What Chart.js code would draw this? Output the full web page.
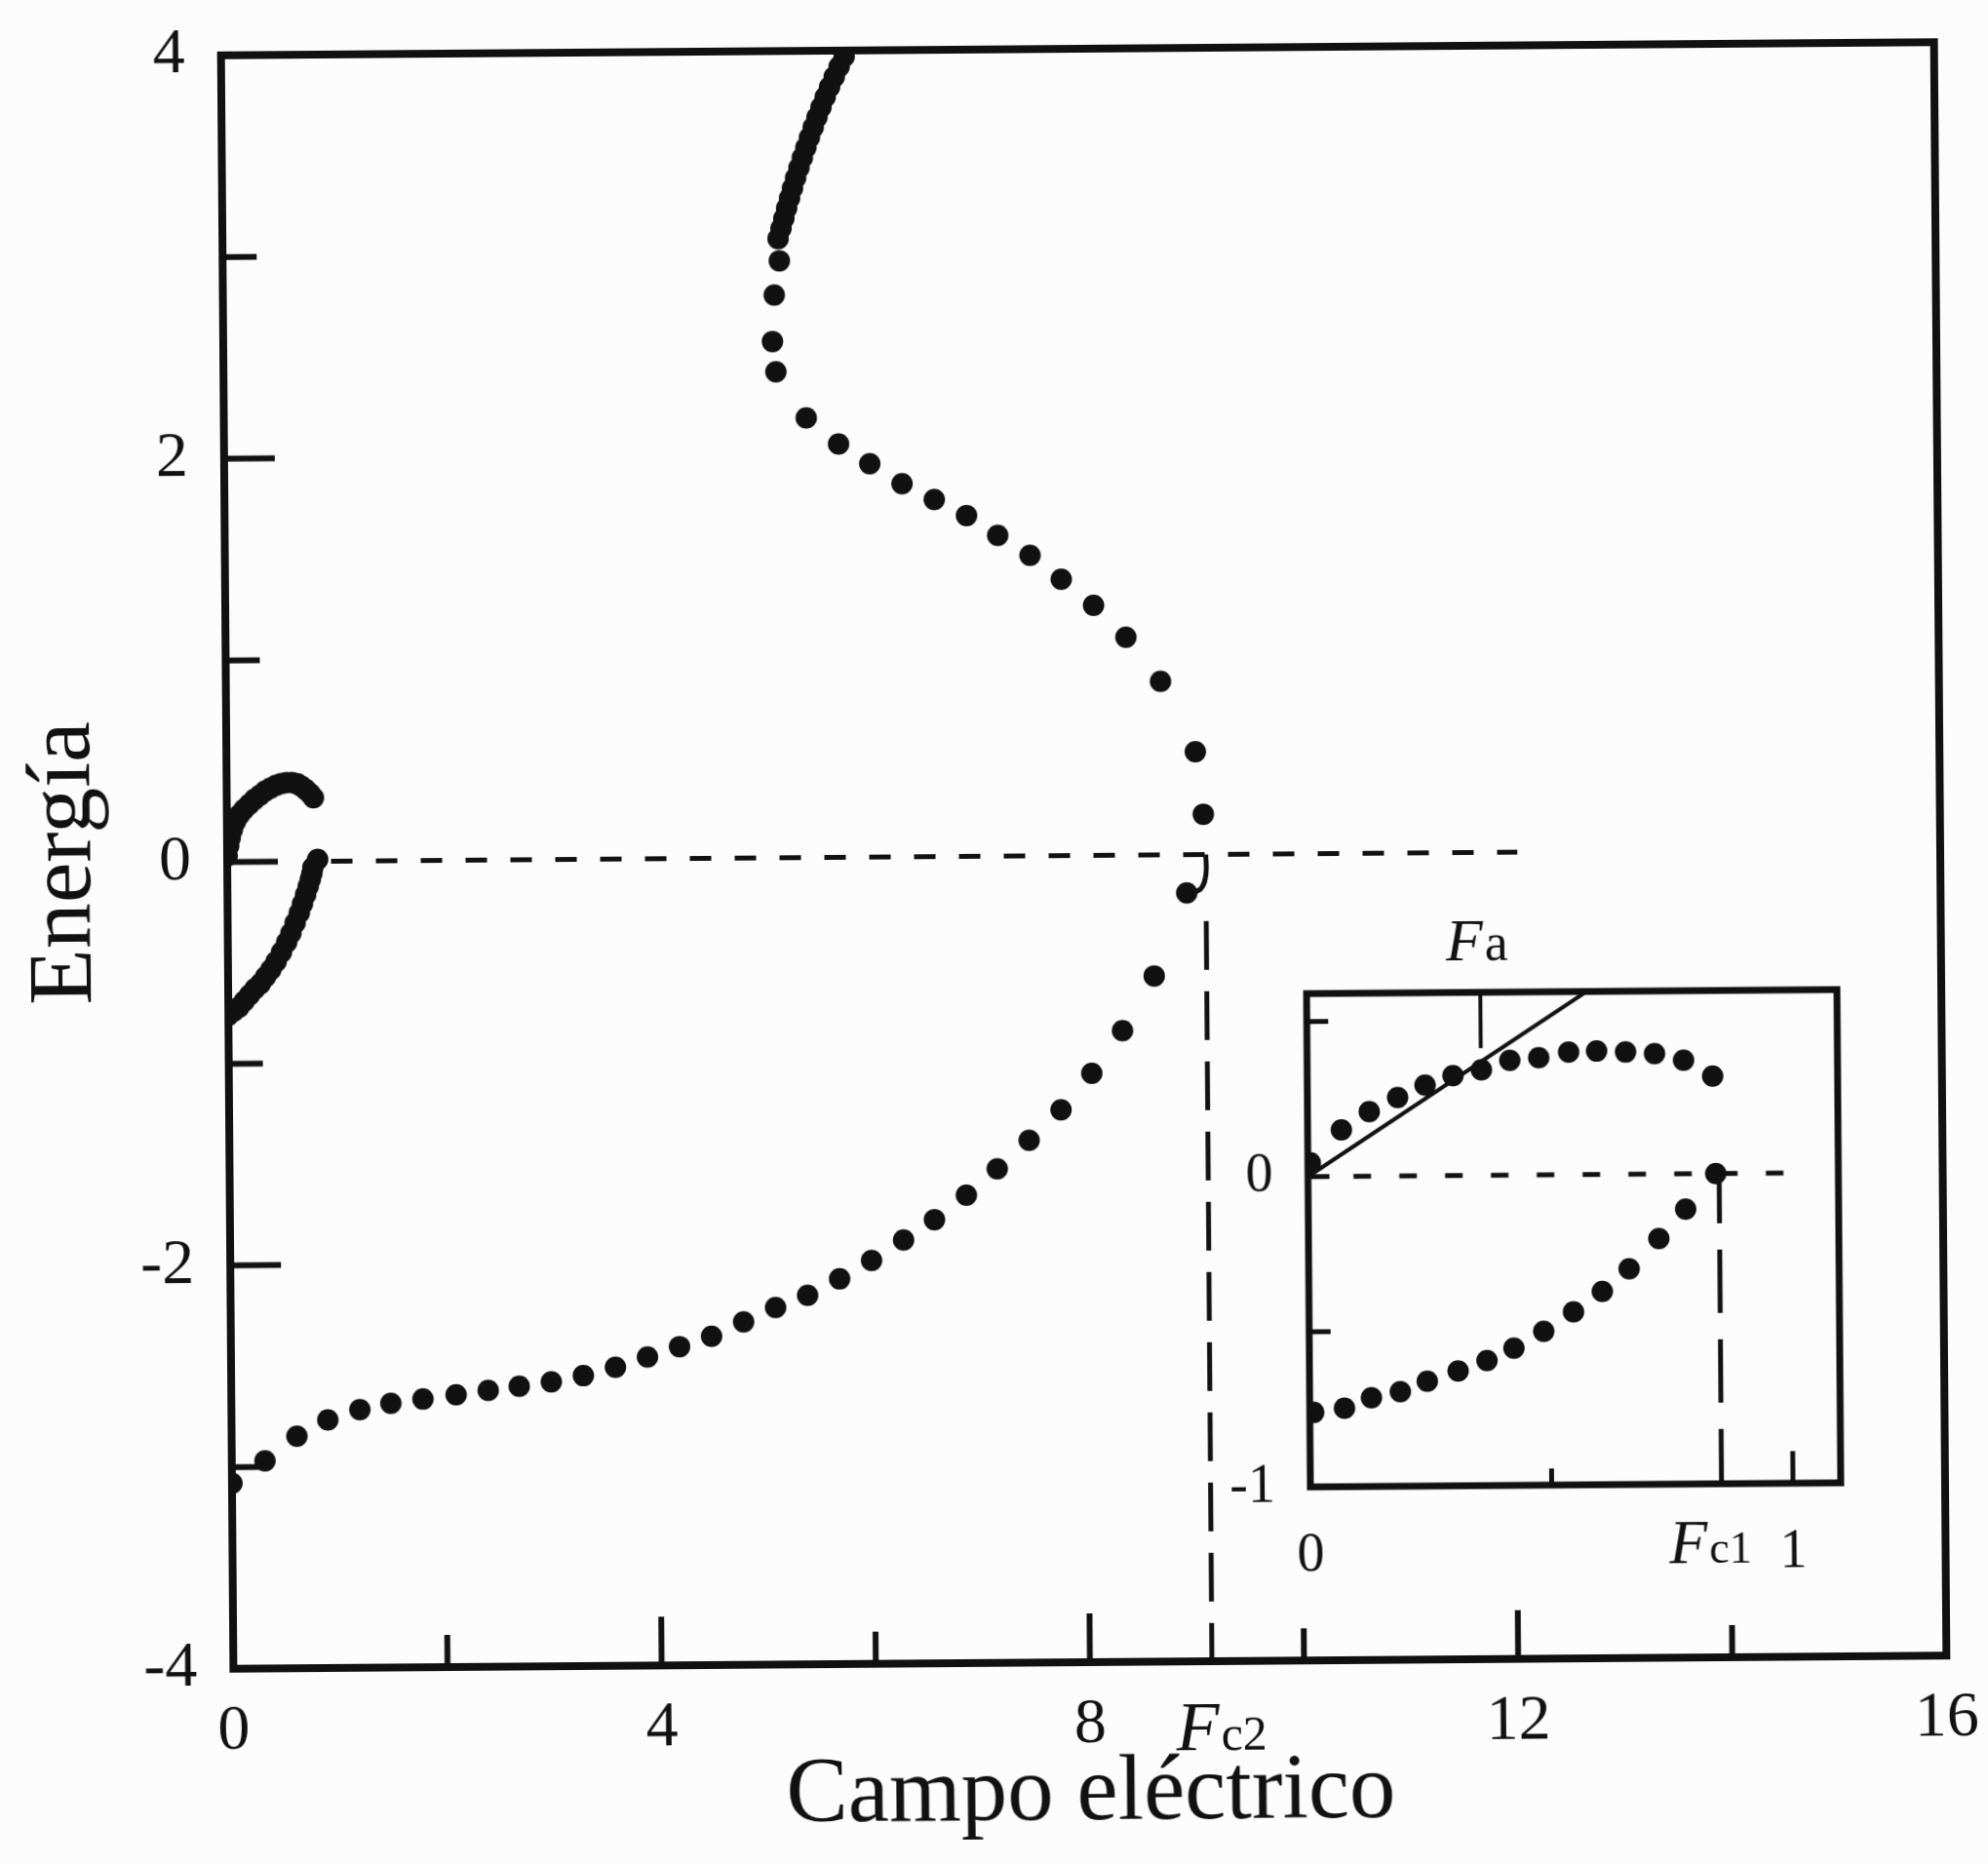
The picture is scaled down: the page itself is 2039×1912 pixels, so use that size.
<!DOCTYPE html>
<html lang="es">
<head>
<meta charset="utf-8">
<title>Energía frente a campo eléctrico</title>
<script src="https://cdn.jsdelivr.net/npm/chart.js@4.4.1/dist/chart.umd.min.js"></script>
<style>
  html, body { margin: 0; padding: 0; background: #fcfcfc; overflow: hidden; }
  #figure {
    position: relative; width: 2039px; height: 1912px;
    transform: rotate(-0.44deg); transform-origin: 1111px 877px;
  }
  #main  { position: absolute; left: 0; top: 0; width: 2039px; height: 1912px; }
  #inset { position: absolute; left: 1239px; top: 941px; width: 700px; height: 700px; }
</style>
</head>
<body>
<div id="figure">
  <canvas id="main" width="2039" height="1912"></canvas>
  <canvas id="inset" width="700" height="700"></canvas>
</div>
<script>
// ---------- main panel: energy levels vs. electric field ----------
const loopUpper = [
  [0.00, 0.03], [0.015, 0.08], [0.03, 0.12], [0.05, 0.16], [0.08, 0.20], [0.12, 0.235],
  [0.16, 0.26], [0.21, 0.285], [0.26, 0.31], [0.31, 0.33], [0.36, 0.35], [0.41, 0.365],
  [0.46, 0.378], [0.51, 0.387], [0.56, 0.392], [0.61, 0.392], [0.66, 0.385], [0.70, 0.372],
  [0.74, 0.356], [0.78, 0.336], [0.81, 0.315]
];
const loopLower = [
  [0.00, -0.76], [0.05, -0.74], [0.10, -0.72], [0.15, -0.69], [0.20, -0.66], [0.25, -0.63],
  [0.30, -0.605], [0.35, -0.57], [0.40, -0.535], [0.45, -0.495], [0.50, -0.45], [0.55, -0.40],
  [0.59, -0.355], [0.63, -0.305], [0.67, -0.255], [0.70, -0.21], [0.73, -0.165], [0.755, -0.125],
  [0.775, -0.09], [0.79, -0.06], [0.80, -0.03], [0.845, 0.01]
];
const lowerBand = [
  [0.00, -3.08], [0.31, -2.97], [0.61, -2.85], [0.90, -2.77], [1.20, -2.72], [1.49, -2.69],
  [1.79, -2.67], [2.10, -2.65], [2.40, -2.63], [2.69, -2.61], [2.99, -2.59], [3.29, -2.56],
  [3.59, -2.52], [3.89, -2.47], [4.19, -2.42], [4.49, -2.37], [4.79, -2.30], [5.09, -2.23],
  [5.39, -2.17], [5.69, -2.09], [5.99, -2.00], [6.29, -1.90], [6.58, -1.80], [6.88, -1.68],
  [7.17, -1.55], [7.47, -1.41], [7.77, -1.26], [8.06, -1.08], [8.35, -0.87], [8.65, -0.60],
  [8.96, -0.19]
];
const upperBand = [
  [5.820, 3.97], [5.772, 3.92], [5.726, 3.87], [5.682, 3.82], [5.640, 3.77], [5.600, 3.72],
  [5.562, 3.67], [5.526, 3.62], [5.490, 3.57], [5.456, 3.52], [5.422, 3.47], [5.390, 3.42],
  [5.358, 3.37], [5.328, 3.32], [5.300, 3.27], [5.272, 3.22], [5.245, 3.17], [5.218, 3.12],
  [5.190, 3.07], [5.20, 2.96], [5.15, 2.79], [5.13, 2.56], [5.16, 2.41], [5.44, 2.18],
  [5.74, 2.05], [6.03, 1.95], [6.33, 1.85], [6.63, 1.77], [6.93, 1.69], [7.22, 1.59],
  [7.52, 1.49], [7.81, 1.37], [8.11, 1.24], [8.41, 1.08], [8.73, 0.86], [9.05, 0.51],
  [9.12, 0.20]
];
const FC2 = 9.14;
const zeroGuide = [[0.97, 0], [12.05, 0]];
const fc2Guide = [[FC2, -0.33], [FC2, -4]];
const fc2Hook = [[FC2, 0], [FC2, -0.1], [9.09, -0.17], [8.98, -0.19]];

const fieldTicks = [0, 2, 4, 6, 8, 10, 12, 14, 16];
const fieldTickLabels = ['0', '', '4', '', '8', '', '12', '', '16'];
const energyTicks = [-4, -3, -2, -1, 0, 1, 2, 3, 4];
const energyTickLabels = ['-4', '', '-2', '', '0', '', '2', '', '4'];

// ---------- inset: the region of weak field ----------
const insetUpper = [
  [0.005, 0.045], [0.07, 0.15], [0.128, 0.208], [0.187, 0.253], [0.244, 0.292], [0.302, 0.322],
  [0.361, 0.34], [0.42, 0.37], [0.48, 0.378], [0.542, 0.395], [0.60, 0.398], [0.66, 0.394],
  [0.72, 0.388], [0.78, 0.366], [0.84, 0.314]
];
const insetLower = [
  [0.008, -0.76], [0.072, -0.747], [0.128, -0.714], [0.188, -0.695], [0.244, -0.662],
  [0.308, -0.63], [0.368, -0.597], [0.424, -0.558], [0.486, -0.504], [0.548, -0.442],
  [0.608, -0.377], [0.664, -0.305], [0.726, -0.208], [0.782, -0.114], [0.845, 0.0]
];
const FC1 = 0.852;
const FA = 0.36;
const slopeLine = [[0, 0], [0.58, 0.59]];
const faMark = [[FA, 0.59], [FA, 0.41]];
const insetZeroGuide = [[0.07, 0], [1.0, 0]];
const fc1Guide = [[FC1, 0], [FC1, -1]];

const insetFieldTicks = [0, 0.5, 1];
const insetFieldTickLabels = ['0', '', '1'];
const insetEnergyTicks = [-1, -0.5, 0, 0.5];
const insetEnergyTickLabels = ['-1', '', '0', ''];

// ---------- shared styling ----------
const INK = '#111111';
const SERIF = "'Liberation Serif', 'DejaVu Serif', serif";

function dots(data, r) {
  return { data: data.map(([x, y]) => ({ x, y })), showLine: false, pointRadius: r,
           pointBackgroundColor: INK, pointBorderWidth: 0, pointHoverRadius: r };
}
function guide(data, width, dash, offset) {
  return { data: data.map(([x, y]) => ({ x, y })), showLine: true, pointRadius: 0,
           borderColor: INK, borderWidth: width, borderDash: dash || [],
           borderDashOffset: offset || 0, borderCapStyle: 'butt', fill: false, tension: 0 };
}
function fixedTicks(values) {
  return (scale) => { scale.ticks = values.map(v => ({ value: v })); };
}
function labelFor(values, labels) {
  return (v) => { const i = values.findIndex(t => Math.abs(t - v) < 1e-9); return i >= 0 ? labels[i] : ''; };
}
// keep the plot box where the layout padding puts it, whatever the label sizes
function boxedScale(prop, size) {
  return (s) => {
    s[prop] = size;
    s.paddingTop = 0; s.paddingBottom = 0; s.paddingLeft = 0; s.paddingRight = 0;
  };
}
// italic capital followed by a smaller upright subscript text on the same baseline
function drawSubscripted(ctx, left, baseline, cap, sub, capSize, subSize) {
  ctx.save();
  ctx.fillStyle = INK;
  ctx.textBaseline = 'alphabetic';
  ctx.textAlign = 'left';
  ctx.font = `italic ${capSize}px ${SERIF}`;
  ctx.fillText(cap, left, baseline);
  const w = ctx.measureText(cap).width;
  ctx.font = `${subSize}px ${SERIF}`;
  ctx.fillText(sub, left + w + 2, baseline);
  ctx.restore();
}
function line(ctx, x1, y1, x2, y2) {
  ctx.beginPath(); ctx.moveTo(x1, y1); ctx.lineTo(x2, y2); ctx.stroke();
}

// frame, inward tick marks and the F_c2 label of the main panel
const mainFrame = {
  id: 'mainFrame',
  afterDraw(chart) {
    const { ctx, chartArea: a, scales: { x, y } } = chart;
    ctx.save();
    ctx.strokeStyle = INK;
    ctx.lineWidth = 8;
    ctx.lineJoin = 'miter';
    ctx.strokeRect(a.left, a.top, a.right - a.left, a.bottom - a.top);
    ctx.lineWidth = 6;
    ctx.lineCap = 'butt';
    fieldTicks.forEach((v, i) => {
      if (v === 0 || v === 16) return;
      const px = x.getPixelForValue(v);
      line(ctx, px, a.bottom, px, a.bottom - (fieldTickLabels[i] ? 50 : 33));
    });
    energyTicks.forEach((v, i) => {
      if (v === -4 || v === 4) return;
      const py = y.getPixelForValue(v);
      line(ctx, a.left, py, a.left + (energyTickLabels[i] ? 52 : 35), py);
    });
    ctx.restore();
    drawSubscripted(ctx, x.getPixelForValue(FC2) - 37, a.bottom + 91, 'F', 'c2', 72, 50);
  }
};

// frame, tick marks and the F_a / F_c1 labels of the inset
const insetFrame = {
  id: 'insetFrame',
  afterDraw(chart) {
    const { ctx, chartArea: a, scales: { x, y } } = chart;
    ctx.save();
    ctx.strokeStyle = INK;
    ctx.lineWidth = 7;
    ctx.lineJoin = 'miter';
    ctx.strokeRect(a.left, a.top, a.right - a.left, a.bottom - a.top);
    ctx.lineWidth = 5;
    ctx.lineCap = 'butt';
    insetFieldTicks.forEach((v, i) => {
      if (v === 0) return;
      const px = x.getPixelForValue(v);
      line(ctx, px, a.bottom, px, a.bottom - (insetFieldTickLabels[i] ? 33 : 17));
    });
    insetEnergyTicks.forEach((v) => {
      if (v === -1) return;
      const py = y.getPixelForValue(v);
      line(ctx, a.left, py, a.left + 22, py);
    });
    ctx.restore();
    drawSubscripted(ctx, x.getPixelForValue(FC1) - 54, a.bottom + 81, 'F', 'c1', 64, 46);
    drawSubscripted(ctx, x.getPixelForValue(FA) - 35, a.top - 33, 'F', 'a', 62, 54);
  }
};

const common = {
  responsive: false,
  devicePixelRatio: 1,
  animation: false,
  events: [],
  plugins: { legend: { display: false }, tooltip: { enabled: false } }
};

new Chart(document.getElementById('main'), {
  type: 'scatter',
  data: {
    datasets: [
      guide(zeroGuide, 5, [22, 24]),
      guide(fc2Guide, 5, [50, 22]),
      Object.assign(guide(fc2Hook, 5), { tension: 0.4 }),
      dots(loopUpper, 11),
      dots(loopLower, 11),
      dots(lowerBand, 11),
      dots(upperBand, 11)
    ]
  },
  options: Object.assign({}, common, {
    layout: { padding: { left: 0, top: 50, right: 49, bottom: 0 } },
    scales: {
      x: {
        type: 'linear', min: 0, max: 16,
        afterBuildTicks: fixedTicks(fieldTicks),
        afterFit: boxedScale('height', 207),
        grid: { display: false, drawTicks: false },
        border: { display: false },
        ticks: {
          autoSkip: false, maxRotation: 0, padding: 25, color: INK,
          font: { family: SERIF, size: 66 },
          callback: labelFor(fieldTicks, fieldTickLabels)
        },
        title: {
          display: true, text: 'Campo eléctrico', color: INK,
          font: { family: SERIF, size: 95 }, padding: { top: 0, bottom: 14 }
        }
      },
      y: {
        type: 'linear', min: -4, max: 4,
        afterBuildTicks: fixedTicks(energyTicks),
        afterFit: boxedScale('width', 233),
        grid: { display: false, drawTicks: false },
        border: { display: false },
        ticks: {
          autoSkip: false, padding: 37, color: INK,
          font: { family: SERIF, size: 66 },
          callback: labelFor(energyTicks, energyTickLabels)
        },
        title: {
          display: true, text: 'Energía', color: INK,
          font: { family: SERIF, size: 94 }, padding: { top: 11, bottom: 0 }
        }
      }
    }
  }),
  plugins: [mainFrame]
});

new Chart(document.getElementById('inset'), {
  type: 'scatter',
  data: {
    datasets: [
      guide(insetZeroGuide, 5, [18, 29], -12),
      guide(fc1Guide, 5, [65, 27], 14),
      guide(slopeLine, 4),
      guide(faMark, 4),
      dots(insetUpper, 11),
      dots(insetLower, 11)
    ]
  },
  options: Object.assign({}, common, {
    layout: { padding: { left: 0, top: 80, right: 56, bottom: 0 } },
    scales: {
      x: {
        type: 'linear', min: 0, max: 1.099,
        afterBuildTicks: fixedTicks(insetFieldTicks),
        afterFit: boxedScale('height', 114),
        grid: { display: false, drawTicks: false },
        border: { display: false },
        ticks: {
          autoSkip: false, maxRotation: 0, padding: 38, color: INK,
          font: { family: SERIF, size: 56 },
          callback: labelFor(insetFieldTicks, insetFieldTickLabels)
        }
      },
      y: {
        type: 'linear', min: -1, max: 0.59,
        afterBuildTicks: fixedTicks(insetEnergyTicks),
        afterFit: boxedScale('width', 100),
        grid: { display: false, drawTicks: false },
        border: { display: false },
        ticks: {
          autoSkip: false, padding: 36, color: INK,
          font: { family: SERIF, size: 56 },
          callback: labelFor(insetEnergyTicks, insetEnergyTickLabels)
        }
      }
    }
  }),
  plugins: [insetFrame]
});
</script>
</body>
</html>
